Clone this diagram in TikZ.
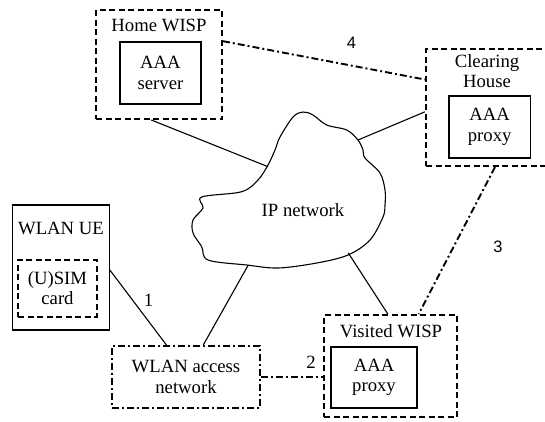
\documentclass[tikz,border=0pt]{standalone}
\usepackage{fontspec}
\setmainfont{Liberation Serif}
\newfontfamily\labelsans{Liberation Sans}
\usetikzlibrary{calc}

\tikzset{
  txt/.style={font=\fontsize{18.7}{20.5}\selectfont},
  dashbox/.style={draw, line width=2pt, dash pattern=on 6pt off 3.5pt, inner sep=0pt, rectangle},
  dotbox/.style={draw, line width=1.9pt, dash pattern=on 7pt off 3pt on 2pt off 3pt, inner sep=0pt, rectangle},
  solidbox/.style={draw, line width=1.2pt, inner sep=0pt, rectangle, align=center, txt},
  label/.style={txt, inner sep=0pt, align=center},
  link/.style={line width=1.1pt},
  dotlink/.style={line width=1.9pt, dash pattern=on 7pt off 3pt on 2pt off 3pt},
}

\begin{document}
\begin{tikzpicture}[x=1pt,y=-1pt]
\clip (0,0) rectangle (545,421);

% Home WISP
\node[dashbox, minimum width=126pt, minimum height=109pt] (home) at (159,64.5) {};
\node[label] (homet) at (159,25) {Home WISP};
\node[solidbox, minimum width=81pt, minimum height=62pt] (homeaaa) at (160.5,73) {AAA\\server};

% Clearing House
\node[dashbox, minimum width=123pt, minimum height=117pt] (ch) at (487.5,107.5) {};
\node[label] (cht) at (487,71) {Clearing\\House};
\node[solidbox, minimum width=81.5pt, minimum height=62pt] (chaaa) at (489.7,127) {AAA\\proxy};

% Visited WISP
\node[dashbox, minimum width=133pt, minimum height=102pt] (vis) at (390.5,366) {};
\node[label] (vist) at (391,331.5) {Visited WISP};
\node[solidbox, minimum width=86pt, minimum height=61pt] (visaaa) at (374,377.5) {AAA\\proxy};

% WLAN access network
\node[dotbox, minimum width=148pt, minimum height=62pt, align=center, txt] (acc) at (186,377) {WLAN access\\network};

% WLAN UE with (U)SIM card
\node[draw, line width=1.1pt, inner sep=0pt, minimum width=96.6pt, minimum height=125pt] (ue) at (61,267.5) {};
\node[label] (uet) at (61,228) {WLAN UE};
\node[dashbox, minimum width=78.4pt, minimum height=56.7pt, align=center, txt] (sim) at (57.5,288.3) {(U)SIM\\card};

% IP network cloud
\draw[line width=1.1pt] plot[smooth cycle, tension=0.55] coordinates {
  (303,112) (313,115) (326.7,125) (346.7,130) (358,140) (363,150) (365,158)
  (380,173) (385,190) (385,205) (383,217) (370,240) (348,255) (316.7,263)
  (278,268) (246.7,265) (208,260) (201.7,246.7) (193,233) (193,220)
  (203,208) (201.7,197) (241.7,191.7) (258,180) (268,165) (275,150) (280,137) (293,117)};
\node[label] (ip) at (303,210) {IP network};
\coordinate (cl1) at (268,166.7);
\coordinate (cl2) at (358,140);
\coordinate (cl3) at (248.3,265);
\coordinate (cl4) at (348.3,253);

% connections to the IP network
\draw[link] ($(home.south west)!0.44!(home.south east)$) -- (cl1);
\draw[link] ($(ch.north west)!0.536!(ch.south west)$) -- (cl2);
\draw[link] (cl3) -- ($(acc.north west)!0.615!(acc.north east)$);
\draw[link] (cl4) -- ($(vis.north west)!0.48!(vis.north east)$);

% reference points
\draw[link] ($(ue.north east)!0.52!(ue.south east)$) -- ($(acc.north west)!0.37!(acc.north east)$);
\node[label] (n1) at (148.5,300) {1};

\draw[dotlink] (acc.east) -- (acc.east -| vis.west);
\node[label] (n2) at (311,362) {2};

\draw[dotlink] ($(ch.south west)!0.56!(ch.south east)$) -- ($(vis.north west)!0.709!(vis.north east)$);
\node[label, font=\labelsans\fontsize{16.5}{18}\selectfont] (n3) at (498,246.5) {3};

\draw[dotlink] ($(home.north east)!0.29!(home.south east)$) -- ($(ch.north west)!0.265!(ch.south west)$);
\node[label, font=\labelsans\fontsize{16.5}{18}\selectfont] (n4) at (351.5,43) {4};
\end{tikzpicture}
\end{document}
